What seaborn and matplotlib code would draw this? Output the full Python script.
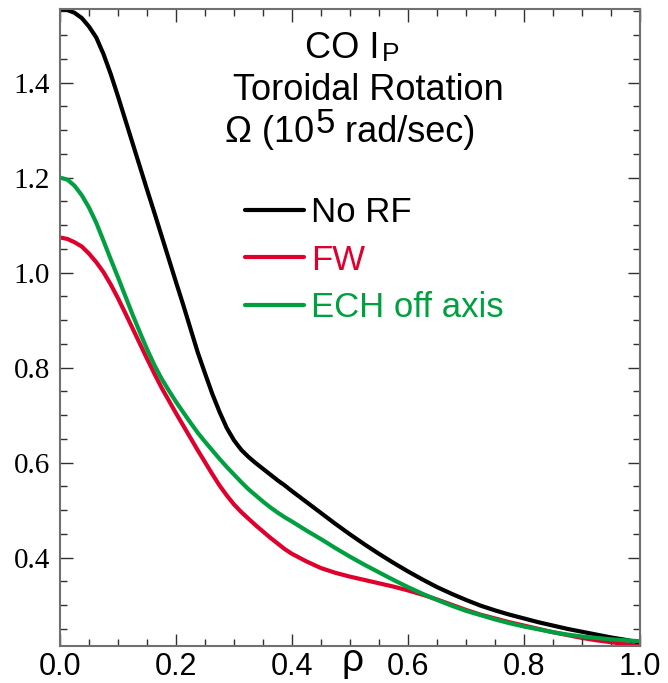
import matplotlib
matplotlib.use("Agg")
import matplotlib.pyplot as plt
from matplotlib.ticker import MultipleLocator, FormatStrFormatter
import seaborn as sns
import pandas as pd

# ---- data ----
rho = [0.0, 0.0125, 0.025, 0.0375, 0.05, 0.0625, 0.075, 0.0875, 0.1, 0.1125, 0.125,
       0.1375, 0.15, 0.1625, 0.175, 0.1875, 0.2, 0.2125, 0.225, 0.2375, 0.25, 0.2625,
       0.275, 0.2875, 0.3, 0.3125, 0.325, 0.3375, 0.35, 0.3625, 0.375, 0.3875, 0.4,
       0.425, 0.45, 0.475, 0.5, 0.525, 0.55, 0.575, 0.6, 0.625, 0.65, 0.675, 0.7,
       0.725, 0.75, 0.775, 0.8, 0.825, 0.85, 0.875, 0.9, 0.925, 0.95, 0.975, 1.0]
no_rf = [1.555, 1.553, 1.547, 1.536, 1.518, 1.495, 1.460, 1.418, 1.371, 1.322, 1.273,
         1.224, 1.175, 1.127, 1.078, 1.029, 0.980, 0.932, 0.882, 0.832, 0.788, 0.745,
         0.707, 0.673, 0.647, 0.627, 0.612, 0.599, 0.587, 0.575, 0.563, 0.552, 0.540,
         0.517, 0.494, 0.471, 0.449, 0.428, 0.408, 0.389, 0.371, 0.354, 0.338, 0.324, 0.311,
         0.299, 0.289, 0.280, 0.272, 0.264, 0.257, 0.250, 0.244, 0.238, 0.232, 0.227, 0.221]
fw = [1.074, 1.071, 1.064, 1.055, 1.040, 1.022, 1.001, 0.975, 0.946, 0.915, 0.883,
      0.851, 0.819, 0.788, 0.758, 0.731, 0.704, 0.678, 0.652, 0.626, 0.601, 0.576,
      0.552, 0.531, 0.512, 0.496, 0.482, 0.468, 0.455, 0.442, 0.430, 0.418, 0.408,
      0.392, 0.378, 0.368, 0.360, 0.353, 0.346, 0.339, 0.331, 0.322, 0.312, 0.301, 0.290,
      0.280, 0.272, 0.264, 0.257, 0.250, 0.243, 0.237, 0.231, 0.226, 0.222, 0.218, 0.213]
ech = [1.200, 1.196, 1.183, 1.163, 1.137, 1.105, 1.067, 1.028, 0.990, 0.951, 0.912,
       0.875, 0.839, 0.806, 0.777, 0.752, 0.728, 0.706, 0.684, 0.663, 0.644, 0.626,
       0.608, 0.591, 0.575, 0.559, 0.544, 0.531, 0.518, 0.506, 0.495, 0.485, 0.476,
       0.457, 0.439, 0.420, 0.402, 0.385, 0.369, 0.353, 0.338, 0.324, 0.311, 0.299, 0.288,
       0.279, 0.270, 0.262, 0.255, 0.249, 0.243, 0.238, 0.234, 0.231, 0.228, 0.226, 0.224]
case_names = ["No RF", "FW", "ECH off axis"]
case_colors = ["#000000", "#e0002d", "#00a040"]
x_ticks = [0.0, 0.2, 0.4, 0.6, 0.8, 1.0]
y_ticks = [0.4, 0.6, 0.8, 1.0, 1.2, 1.4]

df = pd.concat([
    pd.DataFrame({"rho": rho, "omega": vals, "case": name})
    for name, vals in zip(case_names, [no_rf, fw, ech])
], ignore_index=True)

sns.set_style("white")
plt.rcParams["font.family"] = ["Liberation Sans", "DejaVu Sans"]
plt.rcParams["text.color"] = "black"
plt.rcParams["xtick.labelcolor"] = "black"
plt.rcParams["ytick.labelcolor"] = "black"

W, H = 668, 683
fig = plt.figure(figsize=(W / 100, H / 100), dpi=100)
ax = fig.add_axes([60 / W, 1 - 646 / H, 580 / W, 637 / H])

sns.lineplot(data=df, x="rho", y="omega", hue="case", hue_order=case_names,
             palette=dict(zip(case_names, case_colors)), linewidth=3.0,
             estimator=None, sort=False, ax=ax, legend=True)
for ln in ax.get_lines():
    ln.set_solid_joinstyle("round")
    ln.set_solid_capstyle("round")

ax.set_xlim(0, 1)
ax.set_ylim(0.214, 1.555)
ax.set_xlabel("")
ax.set_ylabel("")
ax.set_xticks(x_ticks)
ax.set_yticks(y_ticks)
ax.xaxis.set_minor_locator(MultipleLocator(0.05))
ax.yaxis.set_minor_locator(MultipleLocator(0.05))
ax.xaxis.set_major_formatter(FormatStrFormatter("%.1f"))
ax.yaxis.set_major_formatter(FormatStrFormatter("%.1f"))

for s in ax.spines.values():
    s.set_visible(True)
    s.set_color("#707070")
    s.set_linewidth(1.5)

ax.tick_params(which="both", direction="in", top=True, right=True, bottom=True, left=True,
               color="#303030", width=1.0)
ax.tick_params(which="major", length=9)
ax.tick_params(which="minor", length=5)
ax.tick_params(axis="x", which="major", labelsize=22, pad=4, labelcolor="black")
ax.tick_params(axis="y", which="major", labelsize=21, pad=7, labelcolor="black")
for lbl in ax.get_yticklabels():
    lbl.set_fontfamily(["Liberation Serif", "DejaVu Serif"])

# rho label between tick labels
fig.text(353 / W, 1 - 671 / H, "ρ", fontsize=28, ha="center", va="baseline", color="black")

# legend
handles, labels = ax.get_legend_handles_labels()
leg = ax.legend(handles, labels, loc="upper left",
                bbox_to_anchor=(245 / W, 1 - 196 / H), bbox_transform=fig.transFigure,
                frameon=False, fontsize=25, handlelength=1.7, handletextpad=0.2,
                labelspacing=0.42, borderpad=0, borderaxespad=0)
for txt, col in zip(leg.get_texts(), case_colors):
    txt.set_color(col)
for ln in leg.get_lines():
    ln.set_linewidth(3.0)

# title block
t_co = fig.text(305 / W, 1 - 58 / H, "CO I", fontsize=26, ha="left", va="baseline", color="black")
ax.annotate("P", xy=(1, 0), xycoords=t_co, xytext=(2, 0), textcoords="offset points",
            fontsize=19, ha="left", va="bottom", color="black")
fig.text(233 / W, 1 - 100 / H, "Toroidal Rotation", fontsize=26, ha="left", va="baseline",
         color="black")
t_om = fig.text(225 / W, 1 - 142 / H, "Ω (10", fontsize=26, ha="left", va="baseline",
                color="black")
t_5 = ax.annotate("5", xy=(1, 0), xycoords=t_om, xytext=(1, 7), textcoords="offset points",
                  fontsize=25, ha="left", va="bottom", color="black")
ax.annotate(" rad/sec)", xy=(1, 0), xycoords=t_5, xytext=(0, -7), textcoords="offset points",
            fontsize=26, ha="left", va="bottom", color="black")

fig.savefig("out.png", dpi=100, facecolor="white")
